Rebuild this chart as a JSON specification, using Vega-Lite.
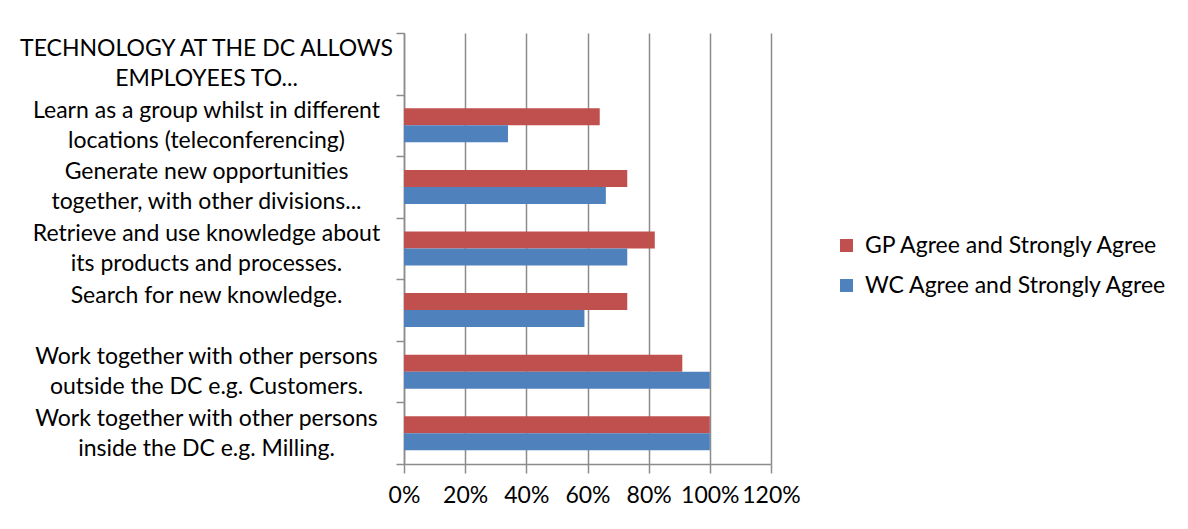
{
  "$schema": "https://vega.github.io/schema/vega-lite/v6.json",
  "autosize": {"type": "none"},
  "width": 367,
  "height": 431,
  "padding": {"left": 404, "top": 33, "right": 417, "bottom": 65},
  "background": "white",
  "config": {"view": {"stroke": null}, "font": "Lato"},
  "data": {
    "values": [
      {"item": "Learn as a group whilst in different\nlocations (teleconferencing)", "group": "GP Agree and Strongly Agree", "share": 0.64},
      {"item": "Learn as a group whilst in different\nlocations (teleconferencing)", "group": "WC Agree and Strongly Agree", "share": 0.34},
      {"item": "Generate new opportunities\ntogether, with other divisions...", "group": "GP Agree and Strongly Agree", "share": 0.73},
      {"item": "Generate new opportunities\ntogether, with other divisions...", "group": "WC Agree and Strongly Agree", "share": 0.66},
      {"item": "Retrieve and use knowledge about\nits products and processes.", "group": "GP Agree and Strongly Agree", "share": 0.82},
      {"item": "Retrieve and use knowledge about\nits products and processes.", "group": "WC Agree and Strongly Agree", "share": 0.73},
      {"item": "Search for new knowledge.", "group": "GP Agree and Strongly Agree", "share": 0.73},
      {"item": "Search for new knowledge.", "group": "WC Agree and Strongly Agree", "share": 0.59},
      {"item": "Work together with other persons\noutside the DC e.g. Customers.", "group": "GP Agree and Strongly Agree", "share": 0.91},
      {"item": "Work together with other persons\noutside the DC e.g. Customers.", "group": "WC Agree and Strongly Agree", "share": 1.0},
      {"item": "Work together with other persons\ninside the DC e.g. Milling.", "group": "GP Agree and Strongly Agree", "share": 1.0},
      {"item": "Work together with other persons\ninside the DC e.g. Milling.", "group": "WC Agree and Strongly Agree", "share": 1.0}
    ]
  },
  "mark": {"type": "bar"},
  "encoding": {
    "y": {
      "field": "item",
      "type": "nominal",
      "scale": {
        "domain": [
          "TECHNOLOGY AT THE DC ALLOWS\nEMPLOYEES TO...",
          "Learn as a group whilst in different\nlocations (teleconferencing)",
          "Generate new opportunities\ntogether, with other divisions...",
          "Retrieve and use knowledge about\nits products and processes.",
          "Search for new knowledge.",
          "Work together with other persons\noutside the DC e.g. Customers.",
          "Work together with other persons\ninside the DC e.g. Milling."
        ],
        "paddingInner": 0,
        "paddingOuter": 0
      },
      "axis": {
        "title": null,
        "grid": false,
        "tickBand": "extent",
        "domainColor": "#8c8c8c",
        "domainWidth": 1.5,
        "tickColor": "#8c8c8c",
        "tickWidth": 1.5,
        "tickSize": 8,
        "labelExpr": "split(datum.label, '\\n')",
        "labelAlign": "center",
        "labelBaseline": "line-bottom",
        "labelFontSize": 23,
        "labelColor": "#000000",
        "labelLineHeight": 30,
        "labelLimit": 600,
        "labelOverlap": false,
        "labelBound": false,
        "labelPadding": 190
      }
    },
    "yOffset": {
      "field": "group",
      "type": "nominal",
      "sort": ["GP Agree and Strongly Agree", "WC Agree and Strongly Agree"],
      "scale": {"paddingInner": 0, "paddingOuter": 0.81}
    },
    "x": {
      "field": "share",
      "type": "quantitative",
      "scale": {"domain": [0, 1.2], "nice": false},
      "axis": {
        "title": null,
        "values": [0, 0.2, 0.4, 0.6, 0.8, 1.0, 1.2],
        "format": ".0%",
        "grid": true,
        "gridColor": "#8c8c8c",
        "gridWidth": 1.5,
        "domainColor": "#8c8c8c",
        "domainWidth": 1.5,
        "tickColor": "#8c8c8c",
        "tickWidth": 1.5,
        "tickSize": 9,
        "labelFontSize": 23,
        "labelColor": "#000000",
        "labelPadding": 11,
        "labelFlush": false,
        "labelOverlap": false
      }
    },
    "color": {
      "field": "group",
      "type": "nominal",
      "scale": {
        "domain": ["GP Agree and Strongly Agree", "WC Agree and Strongly Agree"],
        "range": ["#C0504D", "#4F81BD"]
      },
      "legend": {
        "title": null,
        "orient": "none",
        "legendX": 431,
        "legendY": 201,
        "padding": 0,
        "symbolType": "square",
        "symbolSize": 169,
        "symbolStrokeWidth": 0,
        "labelFontSize": 23,
        "labelColor": "#000000",
        "labelOffset": 7,
        "labelLimit": 400,
        "rowPadding": 16
      }
    }
  }
}
